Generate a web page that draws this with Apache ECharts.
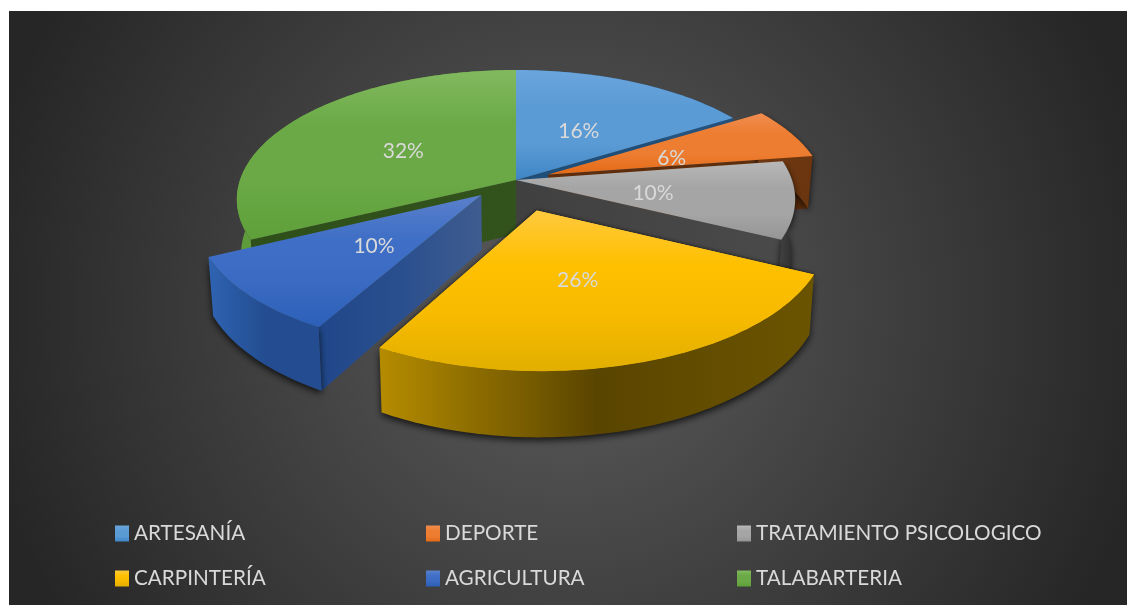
<!DOCTYPE html>
<html><head><meta charset="utf-8">
<style>html,body{margin:0;padding:0;background:#fff}#chart{width:1127px;height:605px}</style>
<script src="https://cdn.jsdelivr.net/npm/echarts@6/dist/echarts.min.js"></script>
</head><body><div id="chart"></div>
<script>
// ---- data ----
const categories = ['ARTESANÍA','DEPORTE','TRATAMIENTO PSICOLOGICO','CARPINTERÍA','AGRICULTURA','TALABARTERIA'];
const counts = [5, 2, 3, 8, 3, 10];
const explosions = [0, 0.125, 0, 0.243, 0.17, 0];
const labelOffsets = [[0, 3], [-1, 5], [-1, 4], [-7, 0], [2, 3], [0, 3]];
// ---- style ----
const topStops = [
  ['#6ba5dc','#5b9bd5','#5b9bd5','#3f86c6'],
  ['#f08d50','#ed7d31','#ed7d31','#e36a17'],
  ['#b8b8b8','#a5a5a5','#a5a5a5','#959595'],
  ['#ffc93e','#ffc000','#f6ba00','#e2af00'],
  ['#5a80cb','#3f6fc6','#3a6ac2','#2c60b8'],
  ['#82b960','#6aa945','#6aa945','#5fa03a']
];
const wallStops = [
  ['#2c5f8e','#24507a'], ['#6d3811','#6b3510'], ['#444444','#2c2c2c'],
  ['#b58c00','#5a4500','#6b5400'], ['#2f63b2','#234d90','#234d90'], ['#5f9c3c','#558c35']
];
const cutStops = [
  ['#1f4e79','#1f4e79'], ['#5e2e0c','#5e2e0c'], ['#404040','#4a4a4a'],
  ['#5a4500','#5a4500'], ['#20478a','#2a4f8e','#3f5c8f'], ['#2f4f1a','#32531c']
];
const CX = 516, CY = 180, RX = 276, RY = 126.5, K = 0.15, H = 54, TAPER = 0.015;
const total = counts.reduce((a, b) => a + b, 0);
function project(u, v, d) {
  const s = 1 / (1 - K * v);
  return [CX + RX * u * s * (1 - TAPER * d), CY + RY * v * s + H * s * d];
}
function stops(list) {
  return list.map((c, i) => ({ offset: i / (list.length - 1), color: c }));
}
function vert(list) { return { type: 'linear', x: 0, y: 0, x2: 0, y2: 1, colorStops: stops(list) }; }
function horiz(list) { return { type: 'linear', x: 0, y: 0, x2: 1, y2: 0, colorStops: stops(list) }; }

function sliceRender(i) {
  return function (params, api) {
    const value = api.value(0);
    let before = 0;
    for (let j = 0; j < i; j++) before += counts[j];
    const a0 = before / total * 2 * Math.PI;
    const a1 = (before + value) / total * 2 * Math.PI;
    const mid = (a0 + a1) / 2;
    const e = explosions[i];
    const ox = e * Math.sin(mid), oy = -e * Math.cos(mid);
    const n = Math.max(8, Math.round((a1 - a0) / 0.02));
    const arc = d => {
      const pts = [];
      for (let t = 0; t <= n; t++) {
        const a = a0 + (a1 - a0) * t / n;
        pts.push(project(ox + Math.sin(a), oy - Math.cos(a), d));
      }
      return pts;
    };
    const top = arc(0), bot = arc(1);
    const apexT = project(ox, oy, 0), apexB = project(ox, oy, 1);
    const children = [];
    const poly = (points, fill, extra) => children.push({
      type: 'polygon', shape: { points }, style: Object.assign({ fill, stroke: null }, extra || {})
    });
    const cut = horiz(cutStops[i]);
    const front = Math.cos(mid) < 0.5;
    const topFill = vert(topStops[i]);
    if (e > 0.2) poly([apexT].concat(top), topFill, { shadowBlur: 4, shadowColor: 'rgba(0,0,0,0.75)' });
    if (Math.sin(a0) < 0) poly([apexT, apexB, bot[0], top[0]], cut);
    if (Math.sin(a1) > 0) poly([apexT, apexB, bot[n], top[n]], cut);
    poly(top.concat(bot.slice().reverse()), horiz(wallStops[i]),
      front ? { shadowBlur: 7, shadowColor: 'rgba(0,0,0,0.75)', shadowOffsetY: 3 } : {});
    poly([apexT].concat(top), topFill);
    const lp = project(ox + 0.5 * Math.sin(mid), oy - 0.5 * Math.cos(mid), 0);
    children.push({
      type: 'text',
      style: { text: Math.round(value / total * 100) + '%', x: lp[0] + labelOffsets[i][0], y: lp[1] + labelOffsets[i][1],
        fill: '#d9d9d9', align: 'center', verticalAlign: 'middle',
        font: '21px Lato, "Open Sans", sans-serif' }
    });
    return { type: 'group', children };
  };
}
// paint order: back to front
const paintOrder = [5, 0, 1, 2, 4, 3];
const series = paintOrder.map(i => ({
  type: 'custom', name: categories[i], coordinateSystem: 'none', renderItem: sliceRender(i),
  data: [[counts[i]]], silent: true, animation: false, clip: false,
  itemStyle: { color: vert(topStops[i]) }
}));
const legendBase = {
  orient: 'vertical', top: 523, itemWidth: 14, itemHeight: 16, itemGap: 24, icon: 'rect',
  selectedMode: false, padding: 0,
  textStyle: { color: '#d9d9d9', fontFamily: 'Lato, "Open Sans", sans-serif', fontSize: 20.7, lineHeight: 18 }
};
const chart = echarts.init(document.getElementById('chart'));
chart.setOption({
  animation: false,
  tooltip: { show: false },
  graphic: [{
    type: 'rect', z: -10, silent: true, shape: { x: 9, y: 11, width: 1118, height: 594 },
    style: { fill: { type: 'radial', x: 0.5, y: 0.5, r: 1.0,
      colorStops: [{ offset: 0, color: '#5c5c5c' }, { offset: 1, color: '#262626' }] } }
  }],
  legend: [
    Object.assign({}, legendBase, { left: 115, data: [categories[0], categories[3]] }),
    Object.assign({}, legendBase, { left: 426, data: [categories[1], categories[4]] }),
    Object.assign({}, legendBase, { left: 737, data: [categories[2], categories[5]] })
  ],
  series
});
</script></body></html>
